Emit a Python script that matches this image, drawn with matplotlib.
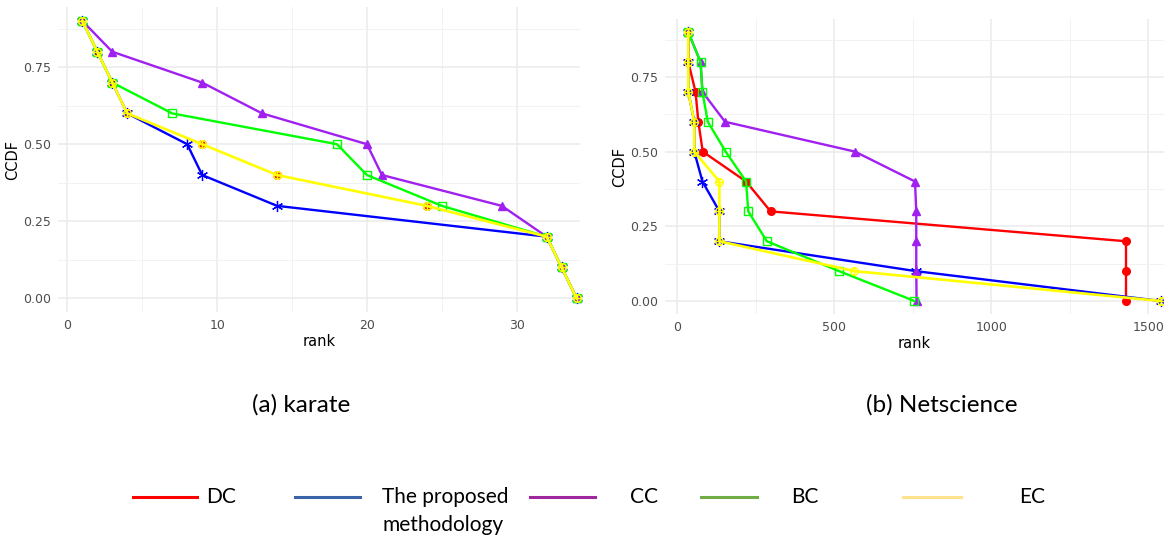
import matplotlib
matplotlib.use('Agg')
import matplotlib.pyplot as plt
from matplotlib.path import Path
from matplotlib.lines import Line2D

# CCDF levels shared by every curve
ccdf = [0.9, 0.8, 0.7, 0.6, 0.5, 0.4, 0.3, 0.2, 0.1, 0.0]

# karate: rank of each method at each CCDF level
karate_dc = [1, 2, 3, 4, 9, 14, 24, 32, 33, 34]
karate_proposed = [1, 2, 3, 4, 8, 9, 14, 32, 33, 34]
karate_cc = [1, 3, 9, 13, 20, 21, 29, 32, 33, 34]
karate_bc = [1, 2, 3, 7, 18, 20, 25, 32, 33, 34]
karate_ec = [1, 2, 3, 4, 9, 14, 24, 32, 33, 34]

# Netscience
net_dc = [35, 35, 58, 67, 81, 219, 297, 1429, 1429, 1429]
net_proposed = [35, 35, 35, 54, 54, 80, 134, 134, 759, 1540]
net_cc = [35, 74, 80, 152, 566, 757, 761, 761, 761, 762]
net_bc = [35, 74, 80, 97, 154, 219, 226, 285, 515, 755]
net_ec = [35, 35, 35, 54, 54, 134, 134, 134, 564, 1540]

legend_names = ['DC', ['The proposed', 'methodology'], 'CC', 'BC', 'EC']
legend_colors = ['#FF0000', '#3B63A8', '#A0289E', '#70AD47', '#FFE38C']

# circle with a plus inside, used for EC
circ = Path.unit_circle()
cross = Path([(-1, 0), (1, 0), (0, -1), (0, 1)],
             [Path.MOVETO, Path.LINETO, Path.MOVETO, Path.LINETO])
oplus = Path.make_compound_path(circ, cross)

styles = [
    dict(color='#FF0000', marker='o', ms=5.5, mfc='#FF0000'),
    dict(color='#0000FF', marker=(6, 2, 0), ms=8, mew=0.9, lw=1.7),
    dict(color='#A020F0', marker='^', ms=6, mfc='#A020F0', lw=1.7),
    dict(color='#00FF00', marker='s', ms=5.5, mfc='none', mew=1.0, lw=1.7),
    dict(color='#FFFF00', marker=oplus, ms=5.5, mfc='none', mew=1.0, lw=1.9),
]


def draw_panel(ax, xs_list, xlim, xticks, minor_x, dc_lw):
    for k, (xs, st) in enumerate(zip(xs_list, styles)):
        if k == 0:
            ax.plot(xs, ccdf, clip_on=False, lw=dc_lw, **st)
        else:
            ax.plot(xs, ccdf, clip_on=False, **st)
    ax.set_xlim(*xlim)
    ax.set_ylim(-0.045, 0.945)
    ax.set_xticks(xticks)
    ax.set_xticks(minor_x, minor=True)
    ax.set_yticks([0, 0.25, 0.5, 0.75])
    ax.set_yticklabels(['0.00', '0.25', '0.50', '0.75'])
    ax.set_yticks([0.125, 0.375, 0.625, 0.875], minor=True)
    ax.grid(True, which='major', color='#EBEBEB', lw=1.1)
    ax.grid(True, which='minor', color='#F2F2F2', lw=0.7)
    ax.set_axisbelow(True)
    for s in ax.spines.values():
        s.set_visible(False)
    ax.tick_params(which='both', length=0, labelsize=9, labelcolor='#4D4D4D', pad=5)
    ax.set_xlabel('rank', fontsize=10.5, labelpad=1)
    ax.set_ylabel('CCDF', fontsize=10.5, labelpad=2)


fig = plt.figure(figsize=(11.64, 5.35), dpi=100)

ax1 = fig.add_axes([0.0495, 0.4165, 0.4491, 0.5703])
draw_panel(ax1, [karate_dc, karate_proposed, karate_cc, karate_bc, karate_ec],
           (-0.65, 34.25), [0, 10, 20, 30], [5, 15, 25], dc_lw=0.9)

ax2 = fig.add_axes([0.5711, 0.4123, 0.4289, 0.5527])
draw_panel(ax2, [net_dc, net_proposed, net_cc, net_bc, net_ec],
           (-40, 1550), [0, 500, 1000, 1500], [250, 750, 1250], dc_lw=1.7)

cap_font = dict(family=['Lato', 'DejaVu Sans'], fontsize=17.5, color='black')
fig.text(0.259, 1 - 405 / 535, '(a) karate', ha='center', va='center', **cap_font)
fig.text(0.809, 1 - 405 / 535, '(b) Netscience', ha='center', va='center', **cap_font)

# legend row
line_x = [(133, 197), (295, 360), (530, 595), (701, 757), (903, 961)]
text_x = [206, 382, 630, 791, 1019]
y_leg = 497
for (a, b), tx, name, col in zip(line_x, text_x, legend_names, legend_colors):
    fig.add_artist(Line2D([a / 1164, b / 1164], [1 - y_leg / 535] * 2, color=col, lw=2.2,
                          transform=fig.transFigure))
    rows = name if isinstance(name, list) else [name]
    for i, row in enumerate(rows):
        fig.text(tx / 1164, 1 - (y_leg + 28 * i) / 535, row, ha='left', va='center',
                 family=['Lato', 'DejaVu Sans'], fontsize=15)

fig.savefig('out.png', dpi=100)
